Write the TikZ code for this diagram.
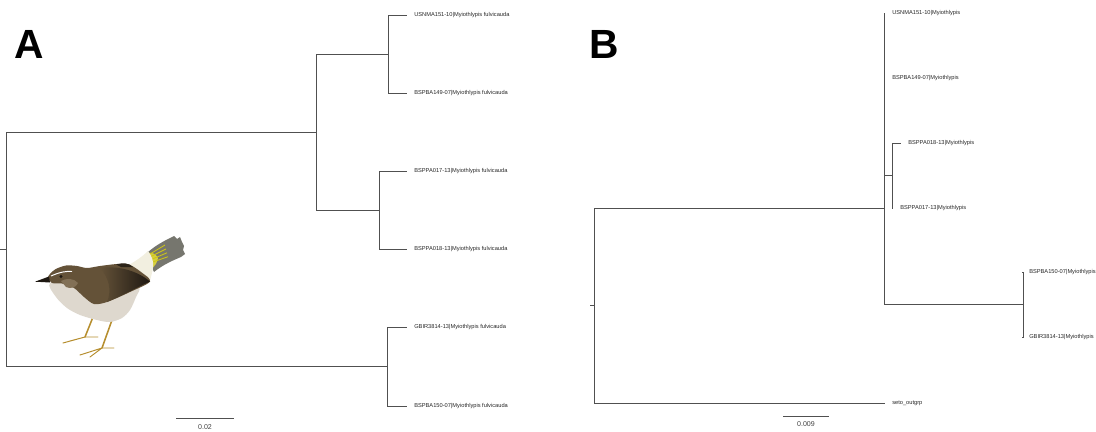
\documentclass[tikz,border=0pt]{standalone}
\usepackage{fontspec}
\setmainfont{Liberation Sans}
\usepackage{tikz}
\definecolor{branchgray}{RGB}{80,80,80}
\definecolor{birdbrown}{RGB}{100,82,56}
\definecolor{birdcheek}{RGB}{130,112,86}
\definecolor{birddark}{RGB}{30,24,18}
\definecolor{birdbelly}{RGB}{222,216,206}
\definecolor{birdleg}{RGB}{182,142,46}
\definecolor{tailwhite}{RGB}{242,239,224}
\definecolor{tailyellow}{RGB}{206,198,22}
\definecolor{tailgray}{RGB}{118,118,110}
\tikzset{
  branch/.style={draw=branchgray, line width=0.5pt},
  taxlabel/.style={anchor=west, inner sep=0pt, text=black!85, font=\fontsize{4.05}{5}\selectfont},
  scalelabel/.style={inner sep=0pt, text=black!75, font=\fontsize{5}{6}\selectfont},
  panelletter/.style={anchor=base west, inner sep=0pt, font=\fontsize{29}{30}\selectfont\bfseries}
}
% tip coordinate plus its label a few px to the right
\newcommand{\taxon}[4]{%
  \coordinate (#1) at (#2,#3);
  \node[taxlabel] (#1-lab) at (#2+7,#3) {#4};}

\begin{document}
\begin{tikzpicture}[x=0.025cm, y=-0.025cm]
  \useasboundingbox (0,0) rectangle (1096,432);

  % ---- tree A ----
  \node[panelletter] (letA) at (14,59) {A};
  \coordinate (rA0) at (0,249.5);
  \coordinate (rA) at (6,249.5);
  \coordinate (a1) at (316,132);
  \coordinate (a2) at (388,54);
  \coordinate (a3) at (379,210);
  \coordinate (a4) at (387,366.5);
  \taxon{usnmaA}{407}{15}{USNMA151-10|Myiothlypis fulvicauda}
  \taxon{bspbaA}{407}{93}{BSPBA149-07|Myiothlypis fulvicauda}
  \taxon{bsppaA}{407}{171}{BSPPA017-13|Myiothlypis fulvicauda}
  \taxon{bsppbA}{407}{249}{BSPPA018-13|Myiothlypis fulvicauda}
  \taxon{gbirA}{407}{327}{GBIR3814-13|Myiothlypis fulvicauda}
  \taxon{bspbbA}{407}{406}{BSPBA150-07|Myiothlypis fulvicauda}
  \draw[branch] (rA0) -- (rA);
  \draw[branch] (rA) |- (a1);
  \draw[branch] (rA) |- (a4);
  \draw[branch] (a1) |- (a2);
  \draw[branch] (a1) |- (a3);
  \draw[branch] (a2) |- (usnmaA);
  \draw[branch] (a2) |- (bspbaA);
  \draw[branch] (a3) |- (bsppaA);
  \draw[branch] (a3) |- (bsppbA);
  \draw[branch] (a4) |- (gbirA);
  \draw[branch] (a4) |- (bspbbA);
  \coordinate (sbA0) at (176,418);
  \coordinate (sbA1) at (234,418);
  \draw[branch] (sbA0) -- (sbA1);
  \node[scalelabel] (sbAlab) at (205,427) {0.02};

  % bird: legs, tail, belly, back, wing, head
  \draw[birdleg, line width=1.1pt, line cap=round] (93,317) -- (85,337);
  \draw[birdleg, line width=0.7pt, line cap=round] (85,337) -- (63,343) (85,337) -- (70,341) (85,337) -- (98,337);
  \draw[birdleg, line width=1.1pt, line cap=round] (112,320) -- (102,348);
  \draw[birdleg, line width=0.7pt, line cap=round] (102,348) -- (80,355) (102,348) -- (90,357) (102,348) -- (114,348);
  \fill[tailgray] (146,254) .. controls (152,248) and (160,243) .. (170,238) -- (174,236) -- (177,239) -- (180,237)
    -- (182,242) -- (184,246) -- (183,250) -- (185,254) -- (181,257)
    .. controls (174,260) and (164,264) .. (154,272) -- cycle;
  \fill[tailyellow!80!tailwhite] (148,253) .. controls (152,252) and (156,254) .. (158,258)
    .. controls (157,263) and (155,266) .. (152,268) -- cycle;
  \foreach \dy in {0,3,6,9}
    \draw[tailyellow, line width=0.6pt] (150,254+\dy) -- (165+\dy/3,245+1.3*\dy);
  \fill[tailwhite] (127,266) .. controls (136,261) and (143,256) .. (148,251)
    .. controls (152,256) and (154,262) .. (153,268) .. controls (152,273) and (151,277) .. (150,281) -- (136,281) -- cycle;
  \fill[birdbelly] plot[smooth cycle] coordinates {(50,283) (56,297) (67,308) (80,315) (97,320) (110,322) (122,318) (130,310) (136,297) (139,287) (120,279) (80,279)};
  \fill[birdbrown] plot[smooth cycle] coordinates {(48,277) (55,269.5) (66,265.5) (77,266) (87,268) (100,266) (117,264) (129,264.5) (141,272) (150,281.5) (130,292) (107,302) (94,304) (84,297) (74,288) (62,283.5) (52,283)};
  \shade[left color=birdbrown, right color=birddark] (100,268) .. controls (122,265) and (140,273) .. (150,281.5)
    .. controls (138,287) and (124,295) .. (107,302) .. controls (112,290) and (109,278) .. (100,268) -- cycle;
  \fill[birddark!80!birdbrown] (116,264.5) .. controls (123,262.5) and (129,263) .. (133,267) -- (121,267) -- cycle;
  \fill[birdcheek] (61,281) .. controls (66,278) and (74,278) .. (78,283) .. controls (76,288) and (70,289) .. (66,287) -- cycle;
  \draw[white, line width=0.7pt] (51,276) .. controls (60,272) and (66,271) .. (72,271.5);
  \fill[birddark] (61,276.5) circle (1.7);
  \fill[birddark] (35,281.7) -- (49,276.5) -- (50,282.5) -- cycle;

  % ---- tree B ----
  \node[panelletter] (letB) at (589,59) {B};
  \coordinate (rB0) at (590,305.5);
  \coordinate (rB) at (594,305.5);
  \coordinate (b1) at (884,208);
  \coordinate (b2) at (892,175.5);
  \coordinate (b3) at (1023,304.5);
  \taxon{usnmaB}{885}{13}{USNMA151-10|Myiothlypis}
  \taxon{bspbaB}{885}{78}{BSPBA149-07|Myiothlypis}
  \taxon{bsppbB}{901}{143}{BSPPA018-13|Myiothlypis}
  \taxon{bsppaB}{893}{208}{BSPPA017-13|Myiothlypis}
  \taxon{bspbbB}{1022}{272}{BSPBA150-07|Myiothlypis}
  \taxon{gbirB}{1022}{337}{GBIR3814-13|Myiothlypis}
  \taxon{outgrp}{885}{403}{seto\_outgrp}
  \draw[branch] (rB0) -- (rB);
  \draw[branch] (rB) |- (b1);
  \draw[branch] (rB) |- (outgrp);
  \draw[branch] (b1) |- (usnmaB);
  \draw[branch] (b1) |- (bspbaB);
  \draw[branch] (b1) |- (b2);
  \draw[branch] (b1) |- (b3);
  \draw[branch] (b2) |- (bsppbB);
  \draw[branch] (b2) |- (bsppaB);
  \draw[branch] (b3) |- (bspbbB);
  \draw[branch] (b3) |- (gbirB);
  \coordinate (sbB0) at (783,416);
  \coordinate (sbB1) at (829,416);
  \draw[branch] (sbB0) -- (sbB1);
  \node[scalelabel] (sbBlab) at (806,424) {0.009};
\end{tikzpicture}
\end{document}
